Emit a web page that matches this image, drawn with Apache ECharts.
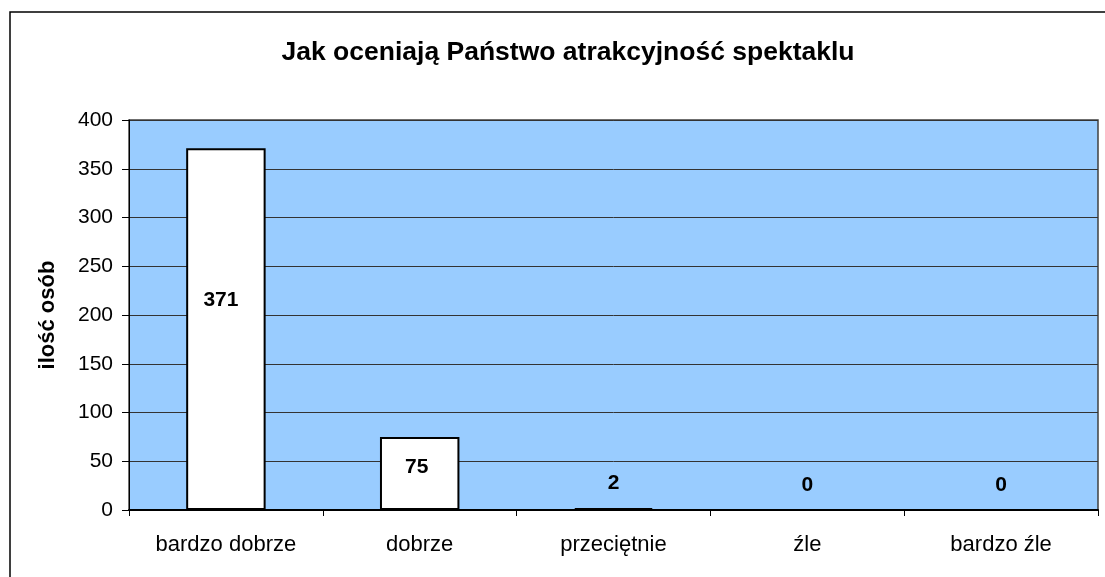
<!DOCTYPE html>
<html><head><meta charset="utf-8">
<script src="https://cdn.jsdelivr.net/npm/echarts@6/dist/echarts.min.js"></script>
<style>html,body{margin:0;padding:0;background:#fff}#c{width:1105px;height:577px}</style>
</head><body><div id="c"></div>
<script>
const categories = ['bardzo dobrze', 'dobrze', 'przeciętnie', 'źle', 'bardzo źle'];
const values = [371, 75, 2, 0, 0];
const yTicks = [0, 50, 100, 150, 200, 250, 300, 350, 400];
const titleText = 'Jak oceniają Państwo atrakcyjność spektaklu';
const yName = 'ilość osób';

// label placement (style only)
const labelShift = [[-5, -29], [-3, -6], [0, -26], [0, -25], [0, -25]];

const chart = echarts.init(document.getElementById('c'));
const font = 'Liberation Sans, Arial, sans-serif';
chart.setOption({
  animation: false,
  title: { text: titleText, left: 563, textAlign: 'center', top: 34,
    textStyle: { fontFamily: font, fontSize: 26.5, fontWeight: 'bold', color: '#000' } },
  graphic: [{ type: 'rect', shape: { x: 10, y: 12, width: 1120, height: 600 },
    style: { fill: 'none', stroke: '#000', lineWidth: 1.5 }, z: -1 }],
  grid: { left: 129, top: 120, right: 7, bottom: 67, show: true,
    backgroundColor: '#99CCFF', borderColor: '#404040', borderWidth: 1.5 },
  xAxis: { type: 'category', data: categories,
    axisLine: { lineStyle: { color: '#000', width: 2 } },
    axisTick: { show: true, length: 6, lineStyle: { color: '#000' } },
    axisLabel: { fontFamily: font, fontSize: 22, color: '#000', margin: 24 } },
  yAxis: { type: 'value', min: yTicks[0], max: yTicks[yTicks.length - 1], interval: 50,
    name: yName, nameLocation: 'middle', nameGap: 70, nameRotate: 90,
    nameTextStyle: { fontFamily: font, fontSize: 22, fontWeight: 'bold', color: '#000' },
    axisLine: { show: true, lineStyle: { color: '#000', width: 1 } },
    axisTick: { show: true, length: 7, lineStyle: { color: '#000' } },
    axisLabel: { fontFamily: font, fontSize: 21, color: '#000', margin: 16 },
    splitLine: { lineStyle: { color: '#333', width: 1 } } },
  series: [{ type: 'bar', barWidth: '41%',
    data: values.map((v, i) => ({ value: v,
      label: { show: true, position: 'inside', offset: labelShift[i],
        formatter: '{c}', fontFamily: font, fontSize: 21, fontWeight: 'bold', color: '#000' } })),
    itemStyle: { color: '#fff', borderColor: '#000', borderWidth: 2 } }]
});
</script></body></html>
